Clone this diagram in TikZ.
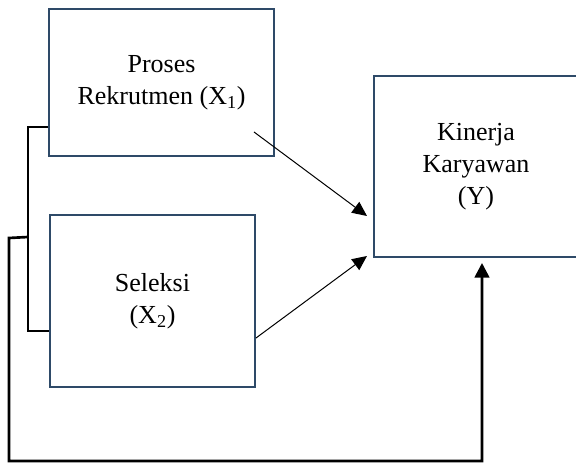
\documentclass[tikz,border=0pt]{standalone}
\usepackage{fontspec}
\setmainfont{Liberation Serif}
\usetikzlibrary{arrows.meta, positioning, calc}
\definecolor{boxblue}{HTML}{2E4A68}
\tikzset{
  varbox/.style={draw=boxblue, line width=1.5pt, align=center, inner sep=0pt,
    font=\fontsize{19.5}{23.8}\selectfont},
  link/.style={line width=0.75pt, -{Triangle[length=11pt,width=10pt]}},
  bracket/.style={line width=2.2pt},
  feedback/.style={line width=2pt, -{Triangle[length=11pt,width=11pt]}}
}
\begin{document}
\begin{tikzpicture}[x=0.75pt, y=-0.75pt]
			\useasboundingbox (0,0) rectangle (576,463);
			\node[varbox, minimum width=225*0.75pt, minimum height=147*0.75pt] (rekrut) at (161.5,82.5) {Proses\\Rekrutmen (X\textsubscript{1})};
			\node[varbox, minimum width=205*0.75pt, minimum height=172*0.75pt] (seleksi) at (152.5,301) {Seleksi\\(X\textsubscript{2})};
			\node[varbox, minimum width=204*0.75pt, minimum height=181*0.75pt] (kinerja) at (476,166.5) {Kinerja\\Karyawan\\(Y)};
			\coordinate (join) at (28,237);
			\coordinate (corner) at (9,461);
			% bracket joining X1 and X2
			\draw[bracket] ($(rekrut.west)+(0,44.5)$) -- (28,127) -- (28,331) -- ($(seleksi.west)+(0,30)$);
			\draw[feedback] (join) -- (9,238) -- (corner) -- (482,461) -- ($(kinerja.south)+(6,5)$);
			\draw[link] ($(rekrut.south east)+(-21,-25)$) -- ($(kinerja.west)+(-6,49.5)$);
			\draw[link] ($(seleksi.east)+(0,37)$) -- ($(kinerja.south west)+(-6,-2)$);
		\end{tikzpicture}
\end{document}
